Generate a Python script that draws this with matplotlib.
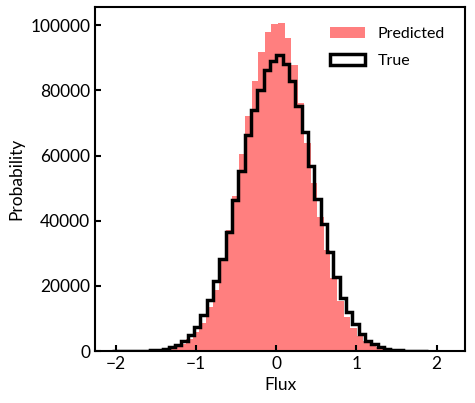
import numpy as np
import matplotlib
matplotlib.use("Agg")
import matplotlib.pyplot as plt

plt.rcParams['font.family'] = ['Lato', 'DejaVu Sans']

# bin ranges of the two histograms (50 bins each)
pred_lo, pred_hi = -1.935, 2.144
true_lo, true_hi = -2.048, 1.897

# counts per bin
pred_counts = [1, 2, 5, 20, 50, 130, 300, 600, 1130, 2050,
               3600, 5900, 8700, 13600, 18700, 27500, 37000, 47500, 60400, 72100,
               82800, 91700, 97850, 100300, 100600, 96000, 87700, 76200, 63900, 51600,
               41000, 31000, 22500, 15500, 10300, 7200, 4750, 3000, 2000, 1200,
               650, 320, 140, 55, 20, 8, 3, 1, 0, 1]
true_counts = [2, 0, 5, 15, 50, 130, 330, 450, 700, 1200,
               1900, 3070, 4900, 7300, 11050, 15600, 21500, 28200, 36600, 46300,
               55200, 66260, 73930, 80060, 86400, 89060, 90900, 88240, 82900, 75150,
               67100, 56700, 46800, 38900, 30300, 22800, 16200, 11900, 8400, 5300,
               3200, 2000, 1200, 750, 450, 200, 90, 35, 10, 3]

pred_edges = np.linspace(pred_lo, pred_hi, len(pred_counts) + 1)
true_edges = np.linspace(true_lo, true_hi, len(true_counts) + 1)

fig = plt.figure(figsize=(4.75, 4.03), dpi=100)
ax = fig.add_axes([0.2, 0.129, 0.779, 0.854])

ax.hist(pred_edges[:-1], bins=pred_edges, weights=pred_counts,
        color='red', alpha=0.5, label='Predicted')
ax.hist(true_edges[:-1], bins=true_edges, weights=true_counts,
        histtype='step', color='black', linewidth=2.5, label='True')

ax.set_xlim(-2.258, 2.353)
ax.set_xticks([-2, -1, 0, 1, 2])
ax.set_yticks([0, 20000, 40000, 60000, 80000, 100000])
ax.set_xlabel('Flux', fontsize=12.5)
ax.set_ylabel('Probability', fontsize=12.5)

ax.tick_params(direction='in', length=4, width=1.5, labelsize=12.5)
for s in ax.spines.values():
    s.set_linewidth(1.5)

ax.legend(loc='upper right', frameon=False, fontsize=11.5,
          labelspacing=0.8, handlelength=2.2, borderaxespad=0.85)

fig.savefig('out.png', dpi=100)
